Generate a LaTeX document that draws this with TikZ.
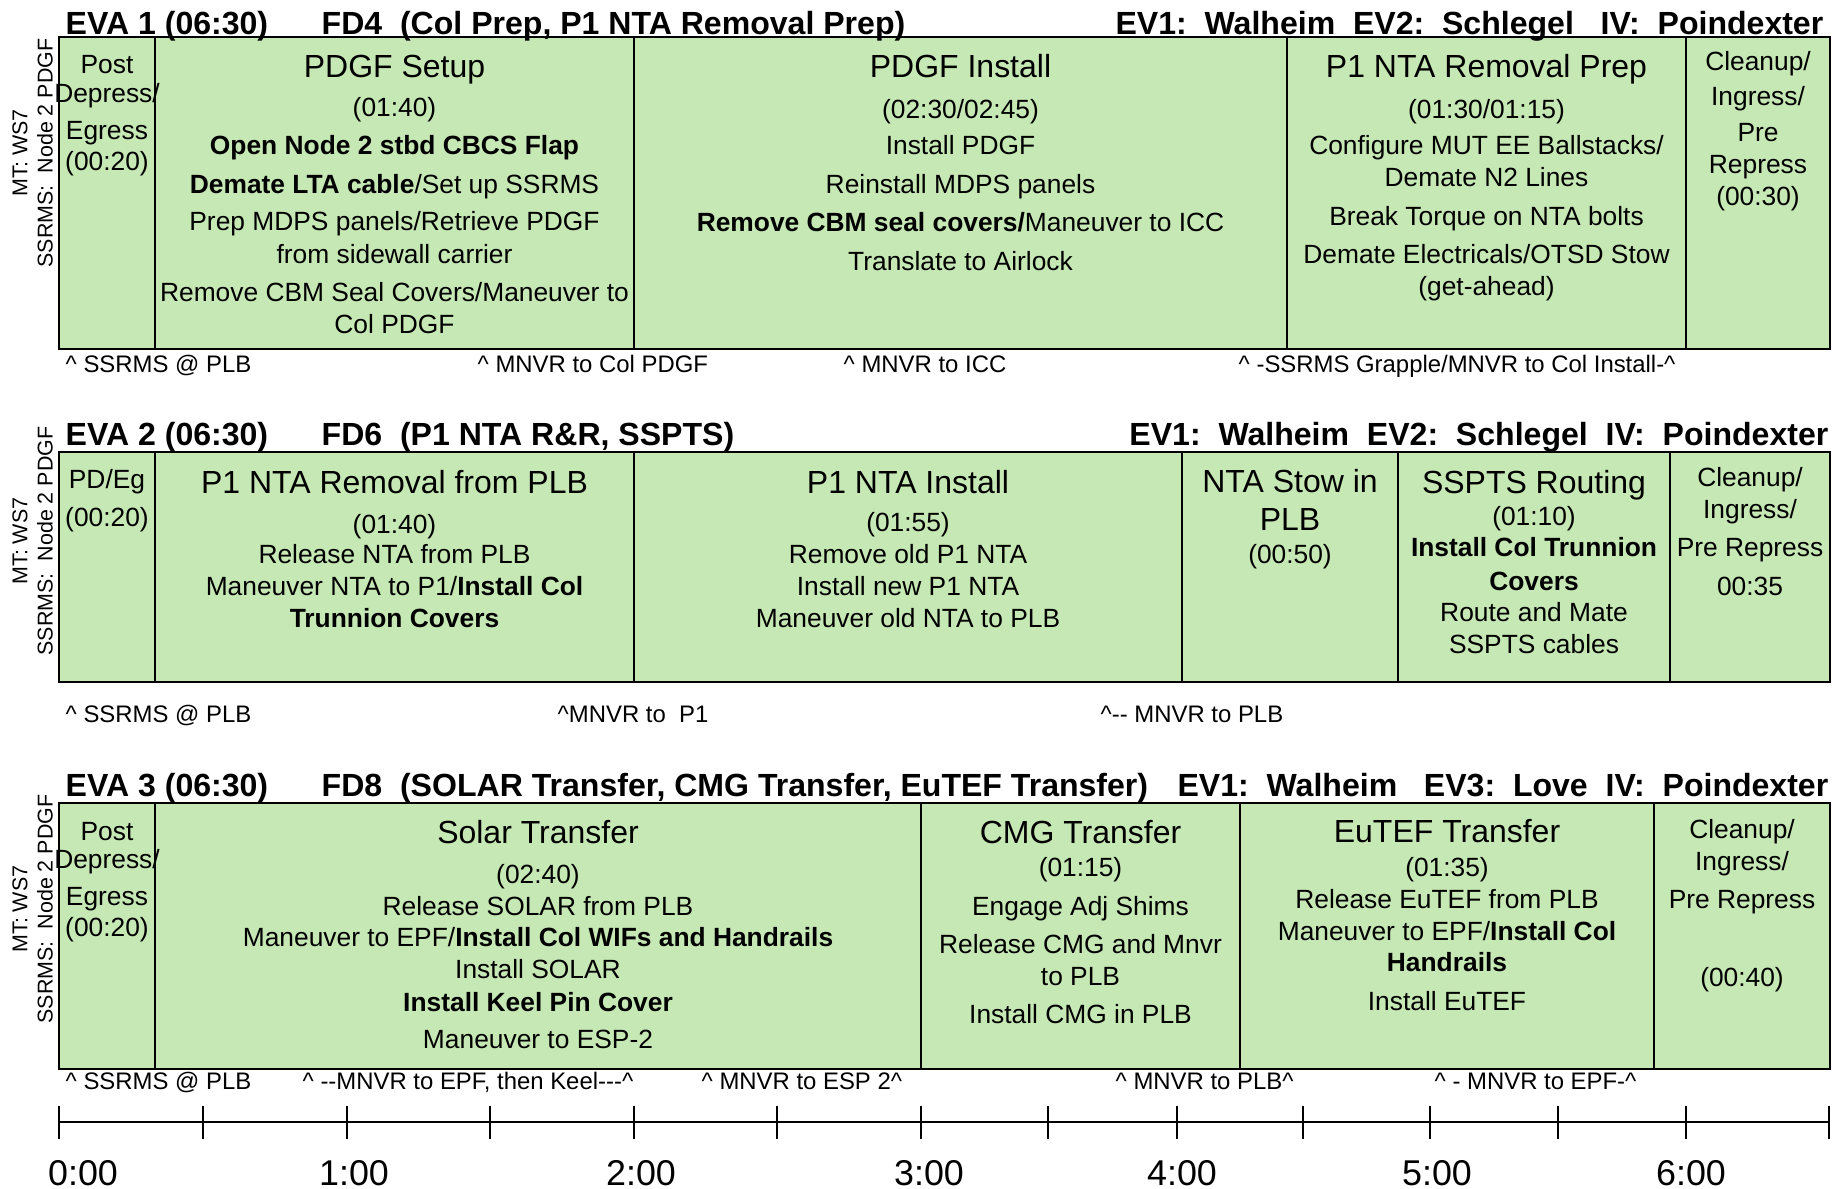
\documentclass[tikz,border=0pt]{standalone}
\usepackage{fontspec}
\setmainfont{Liberation Sans}
\definecolor{boxgreen}{RGB}{198,232,180}

\begin{document}
\begin{tikzpicture}[
    box/.style={fill=boxgreen, line width=0.025cm},
    hdr/.style={anchor=base west, inner sep=0pt, font=\fontsize{9.12}{11}\selectfont\bfseries},
    crew/.style={anchor=base east, inner sep=0pt, font=\fontsize{9.12}{11}\selectfont\bfseries},
    ttl/.style={anchor=base, inner sep=0pt, font=\fontsize{9.1}{10}\selectfont},
    txt/.style={anchor=base, inner sep=0pt, font=\fontsize{7.5}{9}\selectfont},
    note/.style={anchor=base west, inner sep=0pt, font=\fontsize{6.8}{8}\selectfont},
    side/.style={rotate=90, inner sep=0pt, font=\fontsize{6.1}{7}\selectfont},
    hour/.style={anchor=base, inner sep=0pt, font=\fontsize{10.2}{12}\selectfont}]
\useasboundingbox (0,0) rectangle (18.44,11.88);

% Drawing panel EVA 1
\draw [box] (0.59,11.51) rectangle (18.30,8.39);%
\draw [line width=0.02cm] (1.55,11.51) -- (1.55,8.39);%
\draw [line width=0.02cm] (6.34,11.51) -- (6.34,8.39);%
\draw [line width=0.02cm] (12.87,11.51) -- (12.87,8.39);%
\draw [line width=0.02cm] (16.86,11.51) -- (16.86,8.39);%

% Header EVA 1
\draw (0.65,11.54) node (h1a) [hdr] {EVA 1 (06:30)};%
\draw (3.21,11.54) node (h1b) [hdr] {FD4\ \ (Col Prep, P1 NTA Removal Prep)};%
\draw (18.24,11.54) node (h1c) [crew] {EV1:\ \ Walheim\ \ EV2:\ \ Schlegel\ \ \ IV:\ \ Poindexter};%
\draw (0.20,10.35) node (m1) [side] {MT: WS7};%
\draw (0.45,10.35) node (r1) [side] {SSRMS:\ \ Node 2 PDGF};%

% Column Post Depress / Egress
\draw (1.07,11.15) node (a1) [txt] {Post};%
\draw (1.07,10.86) node (a2) [txt] {Depress/};%
\draw (1.07,10.49) node (a3) [txt] {Egress};%
\draw (1.07,10.18) node (a4) [txt] {(00:20)};%

% Column PDGF Setup
\draw (3.945,11.10) node (b0) [ttl] {PDGF Setup};%
\draw (3.945,10.71) node (b1) [txt] {(01:40)};%
\draw (3.945,10.33) node (b2) [txt] {\bfseries Open Node 2 stbd CBCS Flap};%
\draw (3.945,9.95) node (b3) [txt] {\textbf{Demate LTA cable}/Set up SSRMS};%
\draw (3.945,9.58) node (b4) [txt] {Prep MDPS panels/Retrieve PDGF};%
\draw (3.945,9.25) node (b5) [txt] {from sidewall carrier};%
\draw (3.945,8.87) node (b6) [txt] {Remove CBM Seal Covers/Maneuver to};%
\draw (3.945,8.55) node (b7) [txt] {Col PDGF};%

% Column PDGF Install
\draw (9.605,11.10) node (c0) [ttl] {PDGF Install};%
\draw (9.605,10.70) node (c1) [txt] {(02:30/02:45)};%
\draw (9.605,10.33) node (c2) [txt] {Install PDGF};%
\draw (9.605,9.95) node (c3) [txt] {Reinstall MDPS panels};%
\draw (9.605,9.57) node (c4) [txt] {\textbf{Remove CBM seal covers/}Maneuver to ICC};%
\draw (9.605,9.18) node (c5) [txt] {Translate to Airlock};%

% Column P1 NTA Removal Prep
\draw (14.865,11.10) node (d0) [ttl] {P1 NTA Removal Prep};%
\draw (14.865,10.70) node (d1) [txt] {(01:30/01:15)};%
\draw (14.865,10.33) node (d2) [txt] {Configure MUT EE Ballstacks/};%
\draw (14.865,10.02) node (d3) [txt] {Demate N2 Lines};%
\draw (14.865,9.63) node (d4) [txt] {Break Torque on NTA bolts};%
\draw (14.865,9.25) node (d5) [txt] {Demate Electricals/OTSD Stow};%
\draw (14.865,8.93) node (d6) [txt] {(get-ahead)};%

% Column Cleanup
\draw (17.58,11.17) node (e1) [txt] {Cleanup/};%
\draw (17.58,10.83) node (e2) [txt] {Ingress/};%
\draw (17.58,10.47) node (e3) [txt] {Pre};%
\draw (17.58,10.15) node (e4) [txt] {Repress};%
\draw (17.58,9.83) node (e5) [txt] {(00:30)};%

% Notes EVA 1
\draw (0.65,8.16) node (n11) [note] {\^{} SSRMS @ PLB};%
\draw (4.77,8.16) node (n12) [note] {\^{} MNVR to Col PDGF};%
\draw (8.43,8.16) node (n13) [note] {\^{} MNVR to ICC};%
\draw (12.38,8.16) node (n14) [note] {\^{} -SSRMS Grapple/MNVR to Col Install-\^{}};%

% Drawing panel EVA 2
\draw [box] (0.59,7.36) rectangle (18.30,5.06);%
\draw [line width=0.02cm] (1.55,7.36) -- (1.55,5.06);%
\draw [line width=0.02cm] (6.34,7.36) -- (6.34,5.06);%
\draw [line width=0.02cm] (11.82,7.36) -- (11.82,5.06);%
\draw [line width=0.02cm] (13.98,7.36) -- (13.98,5.06);%
\draw [line width=0.02cm] (16.70,7.36) -- (16.70,5.06);%

% Header EVA 2
\draw (0.65,7.43) node (h2a) [hdr] {EVA 2 (06:30)};%
\draw (3.21,7.43) node (h2b) [hdr] {FD6\ \ (P1 NTA R\&R, SSPTS)};%
\draw (18.29,7.43) node (h2c) [crew] {EV1:\ \ Walheim\ \ EV2:\ \ Schlegel\ \ IV:\ \ Poindexter};%
\draw (0.20,6.47) node (m2) [side] {MT: WS7};%
\draw (0.45,6.47) node (r2) [side] {SSRMS:\ \ Node 2 PDGF};%

% Column PD/Eg
\draw (1.07,7.00) node (f1) [txt] {PD/Eg};%
\draw (1.07,6.62) node (f2) [txt] {(00:20)};%

% Column P1 NTA Removal from PLB
\draw (3.945,6.95) node (g0) [ttl] {P1 NTA Removal from PLB};%
\draw (3.945,6.55) node (g1) [txt] {(01:40)};%
\draw (3.945,6.25) node (g2) [txt] {Release NTA from PLB};%
\draw (3.945,5.93) node (g3) [txt] {Maneuver NTA to P1/\textbf{Install Col}};%
\draw (3.945,5.61) node (g4) [txt] {\bfseries Trunnion Covers};%

% Column P1 NTA Install
\draw (9.08,6.95) node (i0) [ttl] {P1 NTA Install};%
\draw (9.08,6.57) node (i1) [txt] {(01:55)};%
\draw (9.08,6.25) node (i2) [txt] {Remove old P1 NTA};%
\draw (9.08,5.93) node (i3) [txt] {Install new P1 NTA};%
\draw (9.08,5.61) node (i4) [txt] {Maneuver old NTA to PLB};%

% Column NTA Stow
\draw (12.90,6.96) node (j0) [ttl] {NTA Stow in};%
\draw (12.90,6.58) node (j1) [ttl] {PLB};%
\draw (12.90,6.25) node (j2) [txt] {(00:50)};%

% Column SSPTS Routing
\draw (15.34,6.95) node (k0) [ttl] {SSPTS Routing};%
\draw (15.34,6.63) node (k1) [txt] {(01:10)};%
\draw (15.34,6.32) node (k2) [txt] {\bfseries Install Col Trunnion};%
\draw (15.34,5.98) node (k3) [txt] {\bfseries Covers};%
\draw (15.34,5.67) node (k4) [txt] {Route and Mate};%
\draw (15.34,5.35) node (k5) [txt] {SSPTS cables};%

% Column Cleanup
\draw (17.50,7.02) node (l1) [txt] {Cleanup/};%
\draw (17.50,6.70) node (l2) [txt] {Ingress/};%
\draw (17.50,6.32) node (l3) [txt] {Pre Repress};%
\draw (17.50,5.93) node (l4) [txt] {00:35};%

% Notes EVA 2
\draw (0.65,4.66) node (n21) [note] {\^{} SSRMS @ PLB};%
\draw (5.57,4.66) node (n22) [note] {\^{}MNVR to\ \ P1};%
\draw (11.00,4.66) node (n23) [note] {\^{}-{}- MNVR to PLB};%

% Drawing panel EVA 3
\draw [box] (0.59,3.85) rectangle (18.30,1.19);%
\draw [line width=0.02cm] (1.55,3.85) -- (1.55,1.19);%
\draw [line width=0.02cm] (9.21,3.85) -- (9.21,1.19);%
\draw [line width=0.02cm] (12.40,3.85) -- (12.40,1.19);%
\draw [line width=0.02cm] (16.54,3.85) -- (16.54,1.19);%

% Header EVA 3
\draw (0.65,3.92) node (h3a) [hdr] {EVA 3 (06:30)};%
\draw (3.21,3.92) node (h3b) [hdr] {FD8\ \ (SOLAR Transfer, CMG Transfer, EuTEF Transfer)};%
\draw (18.29,3.92) node (h3c) [crew] {EV1:\ \ Walheim\ \ \ EV3:\ \ Love\ \ IV:\ \ Poindexter};%
\draw (0.20,2.79) node (m3) [side] {MT: WS7};%
\draw (0.45,2.79) node (r3) [side] {SSRMS:\ \ Node 2 PDGF};%

% Column Post Depress / Egress
\draw (1.07,3.48) node (o1) [txt] {Post};%
\draw (1.07,3.20) node (o2) [txt] {Depress/};%
\draw (1.07,2.83) node (o3) [txt] {Egress};%
\draw (1.07,2.52) node (o4) [txt] {(00:20)};%

% Column Solar Transfer
\draw (5.38,3.45) node (q0) [ttl] {Solar Transfer};%
\draw (5.38,3.05) node (q1) [txt] {(02:40)};%
\draw (5.38,2.73) node (q2) [txt] {Release SOLAR from PLB};%
\draw (5.38,2.42) node (q3) [txt] {Maneuver to EPF/\textbf{Install Col WIFs and Handrails}};%
\draw (5.38,2.10) node (q4) [txt] {Install SOLAR};%
\draw (5.38,1.77) node (q5) [txt] {\bfseries Install Keel Pin Cover};%
\draw (5.38,1.40) node (q6) [txt] {Maneuver to ESP-2};%

% Column CMG Transfer
\draw (10.805,3.45) node (s0) [ttl] {CMG Transfer};%
\draw (10.805,3.12) node (s1) [txt] {(01:15)};%
\draw (10.805,2.73) node (s2) [txt] {Engage Adj Shims};%
\draw (10.805,2.35) node (s3) [txt] {Release CMG and Mnvr};%
\draw (10.805,2.03) node (s4) [txt] {to PLB};%
\draw (10.805,1.65) node (s5) [txt] {Install CMG in PLB};%

% Column EuTEF Transfer
\draw (14.47,3.46) node (t0) [ttl] {EuTEF Transfer};%
\draw (14.47,3.12) node (t1) [txt] {(01:35)};%
\draw (14.47,2.80) node (t2) [txt] {Release EuTEF from PLB};%
\draw (14.47,2.48) node (t3) [txt] {Maneuver to EPF/\textbf{Install Col}};%
\draw (14.47,2.17) node (t4) [txt] {\bfseries Handrails};%
\draw (14.47,1.78) node (t5) [txt] {Install EuTEF};%

% Column Cleanup
\draw (17.42,3.50) node (u1) [txt] {Cleanup/};%
\draw (17.42,3.18) node (u2) [txt] {Ingress/};%
\draw (17.42,2.80) node (u3) [txt] {Pre Repress};%
\draw (17.42,2.02) node (u4) [txt] {(00:40)};%

% Notes EVA 3
\draw (0.65,0.99) node (n31) [note] {\^{} SSRMS @ PLB};%
\draw (3.02,0.99) node (n32) [note] {\^{} -{}-MNVR to EPF, then Keel-{}-{}-\^{}};%
\draw (7.01,0.99) node (n33) [note] {\^{} MNVR to ESP 2\^{}};%
\draw (11.15,0.99) node (n34) [note] {\^{} MNVR to PLB\^{}};%
\draw (14.34,0.99) node (n35) [note] {\^{} - MNVR to EPF-\^{}};%

% Drawing time axis
\draw [line width=0.027cm] (0.59,0.66) -- (18.29,0.66);%
\draw [line width=0.02cm] (0.59,0.82) -- (0.59,0.49);%
\draw [line width=0.02cm] (2.03,0.82) -- (2.03,0.49);%
\draw [line width=0.02cm] (3.47,0.82) -- (3.47,0.49);%
\draw [line width=0.02cm] (4.90,0.82) -- (4.90,0.49);%
\draw [line width=0.02cm] (6.34,0.82) -- (6.34,0.49);%
\draw [line width=0.02cm] (7.77,0.82) -- (7.77,0.49);%
\draw [line width=0.02cm] (9.21,0.82) -- (9.21,0.49);%
\draw [line width=0.02cm] (10.48,0.82) -- (10.48,0.49);%
\draw [line width=0.02cm] (11.77,0.82) -- (11.77,0.49);%
\draw [line width=0.02cm] (13.03,0.82) -- (13.03,0.49);%
\draw [line width=0.02cm] (14.30,0.82) -- (14.30,0.49);%
\draw [line width=0.02cm] (15.58,0.82) -- (15.58,0.49);%
\draw [line width=0.02cm] (16.86,0.82) -- (16.86,0.49);%
\draw [line width=0.02cm] (18.29,0.82) -- (18.29,0.49);%

% Marking hours
\draw (0.83,0.03) node (t00) [hour] {0:00};%
\draw (3.54,0.03) node (t01) [hour] {1:00};%
\draw (6.41,0.03) node (t02) [hour] {2:00};%
\draw (9.29,0.03) node (t03) [hour] {3:00};%
\draw (11.82,0.03) node (t04) [hour] {4:00};%
\draw (14.37,0.03) node (t05) [hour] {5:00};%
\draw (16.91,0.03) node (t06) [hour] {6:00};%
\end{tikzpicture}
\end{document}
